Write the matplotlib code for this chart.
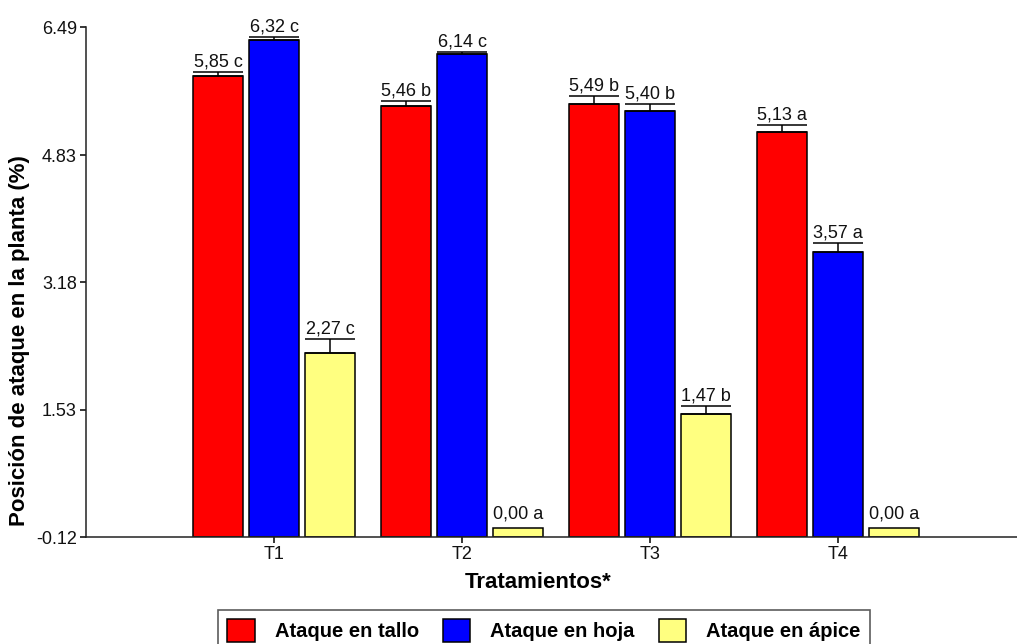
import matplotlib
matplotlib.use("Agg")
import matplotlib.pyplot as plt
from matplotlib.patches import Patch
import numpy as np

plt.rcParams['font.family'] = ['Liberation Sans', 'DejaVu Sans']

# Data
tratamientos = ["T1", "T2", "T3", "T4"]
series_names = ["Ataque en tallo", "Ataque en hoja", "Ataque en ápice"]
tallo = [5.85, 5.46, 5.49, 5.13]
hoja = [6.32, 6.14, 5.40, 3.57]
apice = [2.27, 0.00, 1.47, 0.00]
err_tallo = [0.056, 0.065, 0.10, 0.087]
err_hoja = [0.043, 0.025, 0.095, 0.117]
err_apice = [0.177, 0.0, 0.11, 0.0]
letras_tallo = ["c", "b", "b", "a"]
letras_hoja = ["c", "c", "b", "a"]
letras_apice = ["c", "a", "b", "a"]
yticks = [-0.12, 1.53, 3.18, 4.83, 6.49]

colors = ["#FF0000", "#0000FF", "#FFFF80"]

fig = plt.figure(figsize=(10.17, 6.44), dpi=100)
ax = fig.add_axes([86 / 1017, 1 - 537 / 644, 1 - 86 / 1017, (537 - 27) / 644])

x = np.arange(1, len(tratamientos) + 1)
width = 0.266
step = 0.298
base = yticks[0]

groups = [
    (tallo, err_tallo, letras_tallo),
    (hoja, err_hoja, letras_hoja),
    (apice, err_apice, letras_apice),
]

for i, (vals, errs, letras) in enumerate(groups):
    pos = x + (i - 1) * step
    vals = np.array(vals)
    errs = np.array(errs)
    ax.bar(pos, vals - base, bottom=base, width=width, color=colors[i],
           edgecolor="black", linewidth=1.1, zorder=2)
    mask = errs > 0
    ax.errorbar(pos[mask], vals[mask], yerr=[np.zeros(mask.sum()), errs[mask]],
                fmt="none", ecolor="black", elinewidth=1.1, capsize=18,
                capthick=1.1, zorder=3)
    for p, v, e, l in zip(pos, vals, errs, letras):
        txt = f"{v:.2f}".replace(".", ",") + f" {l}"
        off = 4 if e > 0 else 7
        ax.annotate(txt, (p, v + e), xytext=(0, off), textcoords="offset points",
                    ha="center", va="baseline", fontsize=13, color="#111111")

ax.set_xlim(0, 4.95)
ax.set_ylim(yticks[0], yticks[-1])
ax.set_yticks(yticks)
ax.set_yticklabels([f"{t:.2f}" for t in yticks])
ax.set_xticks(x)
ax.set_xticklabels(tratamientos)
ax.tick_params(axis="both", labelsize=13, length=4.5, width=1.1, pad=2,
               color="black", labelcolor="#111111")

for s in ["top", "right"]:
    ax.spines[s].set_visible(False)
for s in ["left", "bottom"]:
    ax.spines[s].set_linewidth(1.1)
    ax.spines[s].set_color("#222222")

fig.text(20 / 1017, 1 - 341 / 644, "Posición de ataque en la planta (%)",
         rotation=90, ha="center", va="center", fontsize=16, fontweight="bold")
fig.text(538 / 1017, 1 - 583 / 644, "Tratamientos*", ha="center", va="center",
         fontsize=16, fontweight="bold")

handles = [Patch(facecolor=c, edgecolor="black", linewidth=1.1) for c in colors]
leg = fig.legend(handles, series_names, loc="upper center",
                 bbox_to_anchor=(544 / 1017, 1 - 610 / 644), ncol=3,
                 prop={"size": 14.5, "weight": "bold"}, frameon=True,
                 fancybox=False, handlelength=1.35, handleheight=1.35,
                 handletextpad=1.0, columnspacing=1.2, borderpad=0.45,
                 borderaxespad=0)
leg.get_frame().set_edgecolor("#333333")
leg.get_frame().set_linewidth(1.2)

fig.savefig("out.png", dpi=100)
